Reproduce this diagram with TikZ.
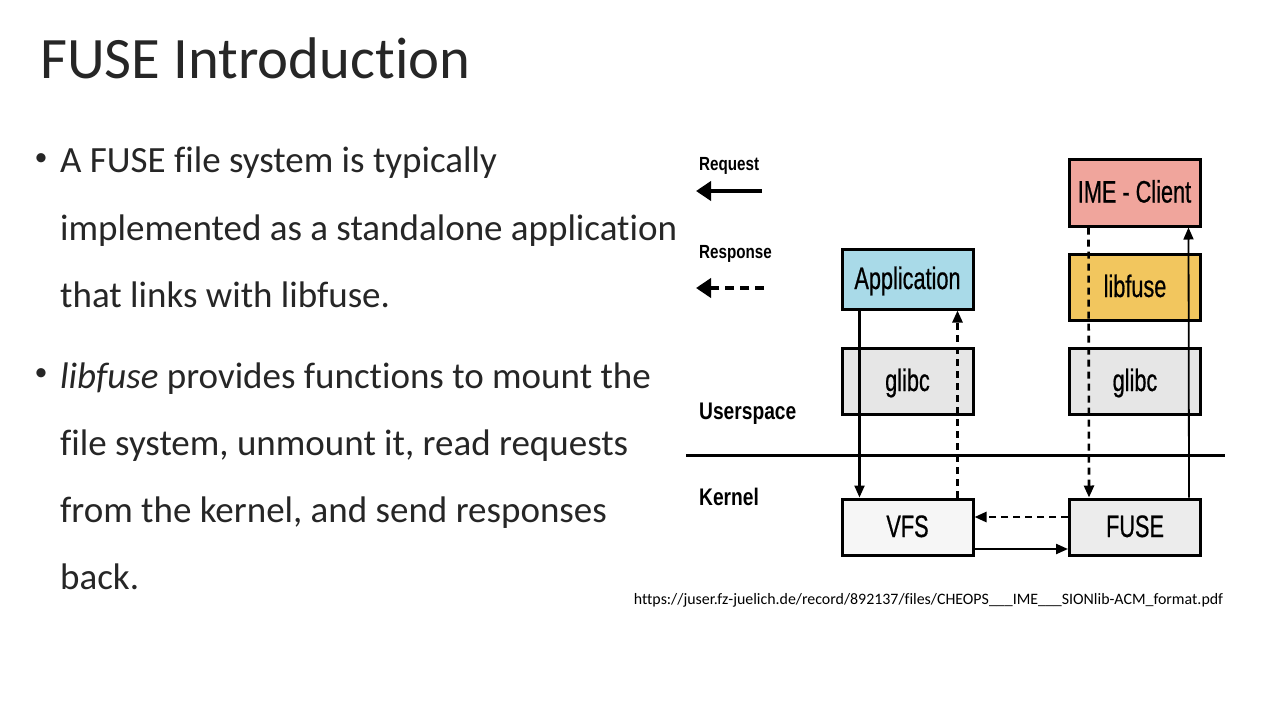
\documentclass[tikz,border=0pt]{standalone}
\usepackage{fontspec}
\setmainfont[Ligatures={NoCommon,NoContextual}]{Carlito}
\newfontfamily\diafont[FakeStretch=0.8]{Liberation Sans}
\newfontfamily\boxfont[FakeStretch=0.7,FakeBold=0.6]{Liberation Sans}
\usetikzlibrary{arrows.meta}
\definecolor{slidetext}{HTML}{262626}
\definecolor{appblue}{HTML}{A9DAE8}
\definecolor{imered}{HTML}{F0A59C}
\definecolor{fusegold}{HTML}{F2C65E}
\definecolor{glibcgray}{HTML}{E6E6E6}
\definecolor{vfsgray}{HTML}{F6F6F6}
\definecolor{fusegray}{HTML}{ECECEC}
\tikzset{
  bullettext/.style={anchor=base west, inner sep=0pt, text=slidetext, font=\fontsize{37}{44}\selectfont},
  bulletmark/.style={anchor=center, inner sep=0pt, text=slidetext, font=\fontsize{26}{30}\selectfont},
  layer/.style={draw=black, line width=3pt, minimum width=131pt, inner sep=0pt,
    text height=22pt, text depth=2pt, font=\boxfont\fontsize{31}{36}\selectfont},
  sidelabel/.style={anchor=west, inner sep=0pt, font=\diafont\bfseries\fontsize{24}{28}\selectfont},
  legendlabel/.style={anchor=west, inner sep=0pt, font=\diafont\bfseries\fontsize{19}{22}\selectfont},
  req/.style={line width=2.2pt, -{Triangle[length=12pt,width=10pt]}},
  resp/.style={line width=2.6pt, dash pattern=on 7pt off 5pt, -{Triangle[length=12pt,width=10pt]}},
}
\begin{document}
\begin{tikzpicture}[x=1pt,y=-1pt]
\useasboundingbox[fill=white] (0,0) rectangle (1280,720);

% title
\node[anchor=base west, inner sep=0pt, text=slidetext, font=\fontsize{58.7}{70}\selectfont] (title) at (40,78) {FUSE Introduction};

% bullet text
\node[bulletmark] (b1) at (41,160) {•};
\node[bullettext] (l1) at (60,172) {A FUSE file system is typically};
\node[bullettext] (l2) at (60,240) {implemented as a standalone application};
\node[bullettext] (l3) at (60,307) {that links with libfuse.};
\node[bulletmark] (b2) at (41,375) {•};
\node[bullettext] (l4) at (60,388) {\textit{libfuse} provides functions to mount the};
\node[bullettext] (l5) at (60,455) {file system, unmount it, read requests};
\node[bullettext] (l6) at (60,522) {from the kernel, and send responses};
\node[bullettext] (l7) at (60,589) {back.};

% legend
\node[legendlabel] (reqlabel) at (699,166) {Request};
\node[legendlabel] (resplabel) at (699,254) {Response};
\coordinate (reqa) at (762,191);
\coordinate (reqb) at (696,191);
\coordinate (respa) at (764,288);
\coordinate (respb) at (696,288);
\draw[line width=4.5pt, -{Triangle[length=15pt,width=19pt]}] (reqa) -- (reqb);
\draw[line width=4.5pt, dash pattern=on 9pt off 6pt, -{Triangle[length=15pt,width=19pt]}] (respa) -- (respb);

% userspace / kernel boundary
\coordinate (bl) at (686,455);
\coordinate (br) at (1225,455);
\draw[line width=3pt] (bl) -- (br);
\node[sidelabel] (user) at (699,414) {Userspace};
\node[sidelabel] (kern) at (699,497) {Kernel};

% layers
\node[layer, fill=appblue, minimum height=60pt] (app) at (907.5,279) {Application};
\node[layer, fill=glibcgray, minimum height=66pt] (glibcl) at (907.5,381) {glibc};
\node[layer, fill=vfsgray, minimum height=56pt] (vfs) at (907.5,527) {VFS};
\node[layer, fill=imered, minimum height=67pt] (ime) at (1134.5,192.5) {IME - Client};
\node[layer, fill=fusegold, minimum height=66pt] (libfuse) at (1135,287) {libfuse};
\node[layer, fill=glibcgray, minimum height=66pt] (glibcr) at (1135,381) {glibc};
\node[layer, fill=fusegray, minimum height=56pt] (fuse) at (1135,527) {FUSE};

% request and response paths
\draw[req] ([xshift=19pt]app.south west) -- ([xshift=19pt]vfs.north west);
\draw[resp] ([xshift=-17pt]vfs.north east) -- ([xshift=-17pt]app.south east);
\draw[resp] ([xshift=21pt]ime.south west) -- ([xshift=21pt]fuse.north west);
\draw[req, line width=1.8pt] ([xshift=-13pt]fuse.north east) -- ([xshift=-13pt]ime.south east);
\draw[resp] ([yshift=10pt]fuse.west) -- ([yshift=10pt]vfs.east);
\draw[req] ([yshift=-22pt]vfs.east) -- ([yshift=-22pt]fuse.west);

% source
\node[anchor=center, inner sep=0pt, text=black, font=\fontsize{15.9}{19}\selectfont] (src) at (928.5,600) {https://juser.fz-juelich.de/record/892137/files/CHEOPS\_\_\_IME\_\_\_SIONlib-ACM\_format.pdf};
\end{tikzpicture}
\end{document}
